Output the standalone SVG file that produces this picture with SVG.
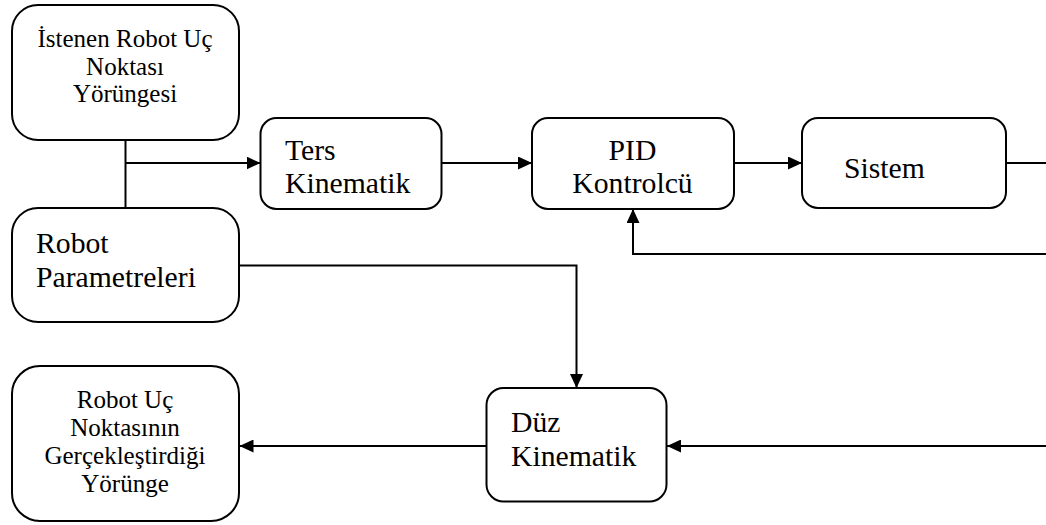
<svg xmlns="http://www.w3.org/2000/svg" width="1046" height="525" viewBox="0 0 1046 525">
<style>
.box{fill:#fff;stroke:#000;stroke-width:2}
.ln{fill:none;stroke:#000;stroke-width:2}
text{font-family:"Liberation Serif","Times New Roman",Times,serif;fill:#000}
.s{font-size:25px}
.l{font-size:29.7px}
.m{text-anchor:middle}
</style>
<defs>
<marker id="ah" markerUnits="userSpaceOnUse" markerWidth="14" markerHeight="13" refX="14" refY="6.5" orient="auto">
<path d="M0,0 L14,6.5 L0,13 z" fill="#000"/>
</marker>
</defs>
<rect width="1046" height="525" fill="#fff"/>
<g id="connectors">
<path class="ln" d="M125.5,140 V208"/>
<path class="ln" d="M125.5,163 H260.5" marker-end="url(#ah)"/>
<path class="ln" d="M441.5,163 H532" marker-end="url(#ah)"/>
<path class="ln" d="M734,163 H802" marker-end="url(#ah)"/>
<path class="ln" d="M1006,163 H1046"/>
<path class="ln" d="M1046,254 H633 V209" marker-end="url(#ah)"/>
<path class="ln" d="M239,265.5 H576.5 V388" marker-end="url(#ah)"/>
<path class="ln" d="M1046,446 H667" marker-end="url(#ah)"/>
<path class="ln" d="M486.5,446 H239.5" marker-end="url(#ah)"/>
</g>
<g id="node-istenen">
<rect class="box" x="12" y="5" width="227" height="135" rx="26"/>
<text class="s m" x="125" y="47">İstenen Robot Uç</text>
<text class="s m" x="125" y="75">Noktası</text>
<text class="s m" x="125" y="102">Yörüngesi</text>
</g>
<g id="node-parametre">
<rect class="box" x="12" y="208" width="227" height="114" rx="26"/>
<text class="l" x="36" y="253">Robot</text>
<text class="l" x="36" y="287">Parametreleri</text>
</g>
<g id="node-ters">
<rect class="box" x="260.5" y="118" width="181" height="91" rx="16"/>
<text class="l" x="285" y="160">Ters</text>
<text class="l" x="285" y="193">Kinematik</text>
</g>
<g id="node-pid">
<rect class="box" x="532" y="118" width="202" height="91" rx="16"/>
<text class="l m" x="632.5" y="160">PID</text>
<text class="l m" x="632.5" y="193">Kontrolcü</text>
</g>
<g id="node-sistem">
<rect class="box" x="802" y="118" width="204" height="90" rx="16"/>
<text class="l" x="844" y="178">Sistem</text>
</g>
<g id="node-duz">
<rect class="box" x="486.5" y="388" width="180" height="113.5" rx="17"/>
<text class="l" x="511" y="431.5">Düz</text>
<text class="l" x="511" y="466">Kinematik</text>
</g>
<g id="node-gercek">
<rect class="box" x="12" y="366" width="227" height="155" rx="28"/>
<text class="s m" x="125" y="408">Robot Uç</text>
<text class="s m" x="125" y="436">Noktasının</text>
<text class="s m" x="125" y="464">Gerçekleştirdiği</text>
<text class="s m" x="125" y="492">Yörünge</text>
</g>
</svg>
